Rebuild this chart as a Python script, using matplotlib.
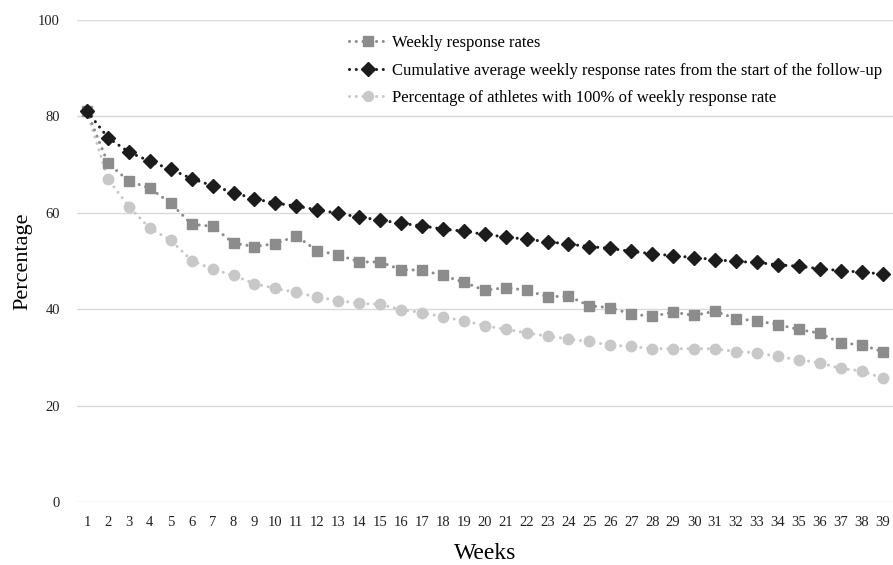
import matplotlib.pyplot as plt

plt.rcParams['font.family'] = ['Liberation Serif', 'DejaVu Serif']

weeks = list(range(1, 40))

weekly = [81.1, 70.3, 66.6, 65.1, 62.0, 57.6, 57.2, 53.7, 53.0, 53.6,
          55.2, 52.1, 51.3, 49.8, 49.8, 48.2, 48.1, 47.0, 45.6, 43.9,
          44.5, 43.9, 42.6, 42.7, 40.7, 40.3, 39.0, 38.5, 39.4, 38.7,
          39.6, 38.0, 37.6, 36.8, 35.8, 35.0, 33.0, 32.6, 31.2]

cumulative = [81.1, 75.6, 72.6, 70.7, 69.0, 67.1, 65.6, 64.2, 62.9, 62.0,
              61.4, 60.6, 59.9, 59.1, 58.5, 57.8, 57.3, 56.6, 56.2, 55.5,
              55.0, 54.5, 54.0, 53.5, 53.0, 52.6, 52.0, 51.5, 51.1, 50.7,
              50.3, 49.9, 49.7, 49.2, 48.9, 48.4, 48.0, 47.7, 47.3]

full_rate = [81.1, 67.0, 61.3, 56.8, 54.3, 50.1, 48.3, 47.0, 45.3, 44.3,
             43.5, 42.5, 41.8, 41.2, 41.0, 39.9, 39.3, 38.4, 37.6, 36.6,
             35.8, 35.1, 34.4, 33.8, 33.3, 32.5, 32.3, 31.8, 31.8, 31.8,
             31.8, 31.2, 31.0, 30.2, 29.5, 28.9, 27.7, 27.2, 25.7]

labels = ["Weekly response rates",
          "Cumulative average weekly response rates from the start of the follow-up",
          "Percentage of athletes with 100% of weekly response rate"]

fig = plt.figure(figsize=(8.93, 5.65), dpi=100)
ax = fig.add_axes([76.5 / 893, 1 - 502 / 565, 1 - 76.5 / 893, (502 - 20) / 565])

dots = (0, (0.01, 2.2))
ax.plot(weeks, weekly, color='#8c8c8c', linestyle=dots, linewidth=2.2,
        dash_capstyle='round', marker='s', markersize=7, label=labels[0], zorder=3)
ax.plot(weeks, cumulative, color='#1c1c1c', linestyle=dots, linewidth=2.2,
        dash_capstyle='round', marker='D', markersize=7, label=labels[1], zorder=4)
ax.plot(weeks, full_rate, color='#c8c8c8', linestyle=dots, linewidth=2.2,
        dash_capstyle='round', marker='o', markersize=7.5, label=labels[2], zorder=2)

ax.set_xlim(0.5, 39.5)
ax.set_ylim(0, 100)
ax.set_xticks(weeks)
ax.set_yticks([0, 20, 40, 60, 80, 100])
ax.tick_params(axis='both', length=0, labelsize=10.5, colors='#222222')
ax.tick_params(axis='x', pad=10)
ax.tick_params(axis='y', pad=12)
ax.yaxis.grid(True, color='#d9d9d9', linewidth=1)
ax.set_axisbelow(True)
for s in ax.spines.values():
    s.set_visible(False)

ax.set_xlabel("Weeks", fontsize=17, labelpad=10)
ax.set_ylabel("Percentage", fontsize=16, labelpad=4)

ax.legend(loc='upper left', bbox_to_anchor=(257 / 816.5, 1.0), frameon=False,
          fontsize=12, handlelength=2.3, handletextpad=0.3, labelspacing=0.7,
          markerscale=0.95)

fig.savefig('out.png', dpi=100)
